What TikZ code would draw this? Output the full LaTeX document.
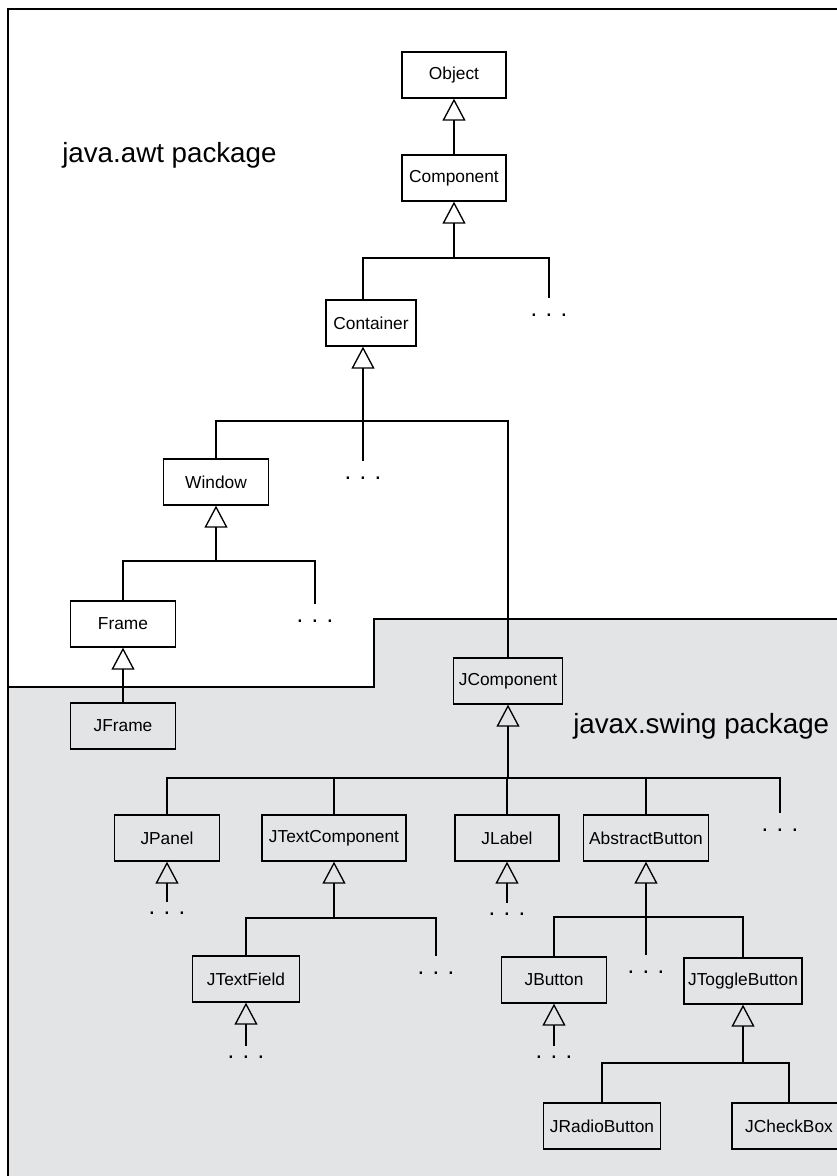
\documentclass[tikz,border=0pt]{standalone}
\usepackage{fontspec}
\setmainfont{Liberation Sans}
\usetikzlibrary{arrows.meta}
\definecolor{swinggray}{RGB}{227,228,230}
\newcommand\more{.\hspace{6.25pt}.\hspace{6.25pt}.}
\begin{document}
\begin{tikzpicture}[
    x=0.75pt, y=-0.75pt,
    cls/.style={draw, line width=1pt, minimum height=34.5pt, inner sep=0pt, font=\fontsize{13}{15}\selectfont},
    dots/.style={inner sep=0pt, outer sep=12pt, font=\fontsize{18}{20}\selectfont},
    dotsup/.style={dots, outer sep=7.5pt},
    pkg/.style={anchor=base west, inner sep=0pt, font=\fontsize{20.8}{24}\selectfont},
    line/.style={line width=1pt},
    gen/.style={line, -{Triangle[open, length=16.5pt, width=17.25pt]}}
]
    \useasboundingbox (0,0) rectangle (837,1176);
    % Pakete
    \fill[swinggray] (8,687) -- (374,687) -- (374,619) -- (840,619) -- (840,1180) -- (8,1180) -- cycle;
    \draw[line] (8,687) -- (374,687) -- (374,619) -- (840,619);
    \draw[line width=1.6pt] (8,1180) -- (8,9) -- (840,9);
    \node[pkg] (awt) at (62,163) {java.awt package};
    \node[pkg] (swing) at (573,733) {javax.swing package};

    % Klassen
    \node[cls, minimum width=78pt] (object) at (454,75) {Object};
    \node[cls, minimum width=78pt] (component) at (454,178) {Component};
    \node[cls, minimum width=67.5pt] (container) at (371,323) {Container};
    \node[cls, minimum width=78.75pt] (window) at (216,482) {Window};
    \node[cls, minimum width=78.75pt] (frame) at (123,624) {Frame};
    \node[cls, minimum width=78.75pt] (jframe) at (123,726) {JFrame};
    \node[cls, minimum width=81.75pt] (jcomponent) at (508,681) {JComponent};
    \node[cls, minimum width=78.75pt] (jpanel) at (167,838) {JPanel};
    \node[cls, minimum width=108pt] (jtextcomp) at (334,838) {JTextComponent};
    \node[cls, minimum width=78pt] (jlabel) at (507,838) {JLabel};
    \node[cls, minimum width=93.75pt] (abstractbtn) at (646,838) {AbstractButton};
    \node[cls, minimum width=80.25pt] (jtextfield) at (246,979) {JTextField};
    \node[cls, minimum width=78.75pt] (jbutton) at (554,980) {JButton};
    \node[cls, minimum width=88.5pt] (jtoggle) at (743,981) {JToggleButton};
    \node[cls, minimum width=87.75pt] (jradio) at (602,1126) {JRadioButton};
    \node[cls, minimum width=85.5pt] (jcheck) at (789,1126) {JCheckBox};

    % weitere Unterklassen
    \node[dots] (d-comp) at (549,315) {\more};
    \node[dots] (d-cont) at (363,478) {\more};
    \node[dots] (d-win) at (315,621) {\more};
    \node[dots] (d-jcomp) at (780,830) {\more};
    \node[dots] (d-text) at (436,973) {\more};
    \node[dots] (d-abs) at (646,972) {\more};
    \node[dotsup] (d-panel) at (167,913) {\more};
    \node[dotsup] (d-label) at (507,914) {\more};
    \node[dotsup] (d-field) at (246,1057) {\more};
    \node[dotsup] (d-button) at (554,1057) {\more};

    % Vererbung
    \draw[gen] (component) -- (object);
    \coordinate (b-comp) at (454,258);
    \draw[gen] (b-comp) -- (component);
    \draw[line] ([xshift=-6pt]container.north) |- (b-comp) -| (d-comp.north);

    \coordinate (b-cont) at (363,421);
    \draw[gen] (b-cont) -- ([xshift=-6pt]container.south);
    \draw[line] (window.north) |- (b-cont) -| (jcomponent.north);
    \draw[line] (b-cont) -- (d-cont.north);

    \coordinate (b-win) at (216,561);
    \draw[gen] (b-win) -- (window);
    \draw[line] (frame.north) |- (b-win) -| (d-win.north);
    \draw[gen] (jframe) -- (frame);

    \coordinate (b-jcomp) at (508,778);
    \draw[gen] (b-jcomp) -- (jcomponent);
    \foreach \c in {jpanel, jtextcomp, jlabel, abstractbtn}
        \draw[line] (\c.north) |- (b-jcomp);
    \draw[line] (b-jcomp) -| (d-jcomp.north);

    \coordinate (b-text) at (334,918);
    \draw[gen] (b-text) -- (jtextcomp);
    \draw[line] (jtextfield.north) |- (b-text) -| (d-text.north);

    \coordinate (b-abs) at (646,917);
    \draw[gen] (b-abs) -- (abstractbtn);
    \draw[line] (jbutton.north) |- (b-abs) -| (jtoggle.north);
    \draw[line] (b-abs) -- (d-abs.north);

    \coordinate (b-tog) at (743,1063);
    \draw[gen] (b-tog) -- (jtoggle);
    \draw[line] (jradio.north) |- (b-tog) -| (jcheck.north);

    \draw[gen] (d-panel) -- (jpanel);
    \draw[gen] (d-label) -- (jlabel);
    \draw[gen] (d-field) -- (jtextfield);
    \draw[gen] (d-button) -- (jbutton);
\end{tikzpicture}
\end{document}
